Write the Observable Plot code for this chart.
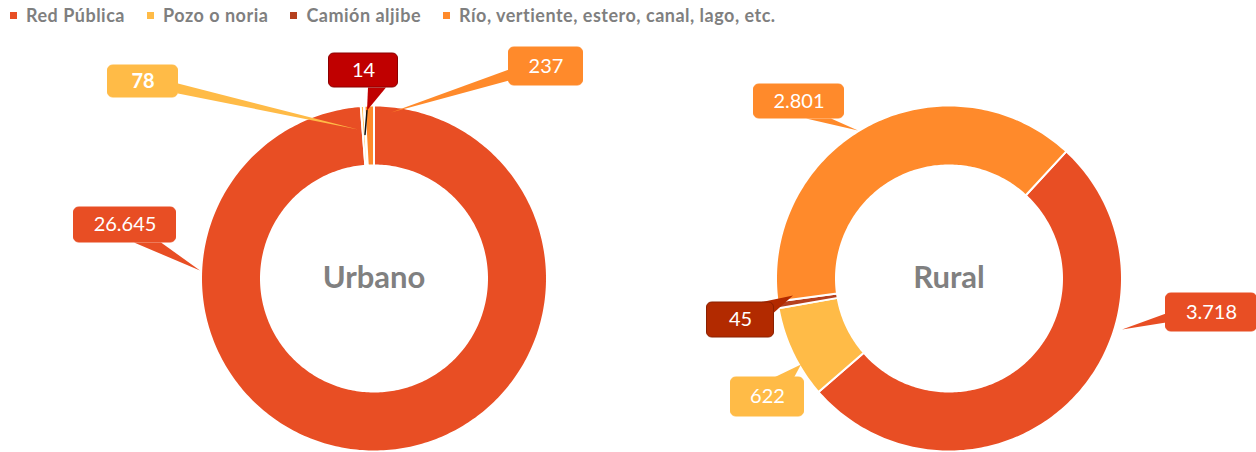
<!DOCTYPE html>
<html><head><meta charset="utf-8">
<script src="https://cdn.jsdelivr.net/npm/d3@7"></script>
<script src="https://cdn.jsdelivr.net/npm/@observablehq/plot@0.6"></script>
<style>
body{margin:0;background:#fff;font-family:Lato,"Open Sans",sans-serif;}
#legend{display:flex;height:30px;align-items:center;padding-left:10px;font-weight:bold;font-size:18px;letter-spacing:0.5px;color:#7f7f7f;white-space:nowrap;}
.item{display:flex;align-items:center;margin-right:22px;}
.sw{width:7px;height:7px;margin-right:9px;}
</style></head><body>
<div id="legend"></div><div id="chart"></div>
<script>
// ---- data ----
const charts = ["Urbano", "Rural"];
const categories = ["Red Pública", "Pozo o noria", "Camión aljibe", "Río, vertiente, estero, canal, lago, etc."];
const urbanoValues = [26645, 78, 14, 237];
const ruralValues = [3718, 622, 45, 2801];
const colors = ["#E84E24", "#FFBB47", "#B5401E", "#FF8A2B"];

// ---- layout (px relative to donut centre) ----
const startDeg = {Urbano: 0, Rural: 42.7};
const rOuter = 173, rInner = 113;
const callouts = [
  {chart: "Urbano", cat: 0, box: [-300, -71, -198, -36], base: [[-240, -36], [-213, -36]], tip: [-174, -8]},
  {chart: "Urbano", cat: 1, box: [-266, -213, -196, -181], base: [[-196, -195], [-196, -185]], tip: [-16, -149], bold: true},
  {chart: "Urbano", cat: 2, box: [-45, -225, 24, -191], base: [[-6, -191], [12, -191]], tip: [-7, -168], lead: [-9, -144], fill: "#C00000", stroke: "#8a0000"},
  {chart: "Urbano", cat: 3, box: [135, -231, 209, -193], base: [[135, -209], [135, -198]], tip: [17, -166]},
  {chart: "Rural", cat: 3, box: [-195, -194, -105, -160], base: [[-143, -160], [-118, -160]], tip: [-91, -148]},
  {chart: "Rural", cat: 0, box: [217, 15, 308, 53], base: [[217, 35], [217, 44]], tip: [173, 51]},
  {chart: "Rural", cat: 2, box: [-242, 24, -175, 59], base: [[-190, 24], [-175, 34]], tip: [-156, 17], fill: "#B22A00", stroke: "#8a2000"},
  {chart: "Rural", cat: 1, box: [-218, 99, -145, 138], base: [[-175, 99], [-155, 99]], tip: [-148, 86]}
];

const valuesOf = {Urbano: urbanoValues, Rural: ruralValues};
const fmt = d3.formatLocale({decimal: ",", thousands: ".", grouping: [3], currency: ["", ""]}).format(",d");

// legend
const leg = d3.select("#legend");
categories.forEach((c, i) => {
  const it = leg.append("div").attr("class", "item");
  it.append("div").attr("class", "sw").style("background", colors[i]);
  it.append("span").text(c);
});

// slice polygons from d3.pie
const slicePts = [];
for (const ch of charts) {
  const s = startDeg[ch] * Math.PI / 180;
  const arcs = d3.pie().sort(null).startAngle(s).endAngle(s + 2 * Math.PI)(valuesOf[ch]);
  arcs.forEach((a, i) => {
    const n = Math.max(2, Math.ceil((a.endAngle - a.startAngle) * 180 / Math.PI) + 1);
    const key = ch + i;
    const pts = [];
    for (let k = 0; k < n; k++) { const t = a.startAngle + (a.endAngle - a.startAngle) * k / (n - 1); pts.push([rOuter, t]); }
    for (let k = n - 1; k >= 0; k--) { const t = a.startAngle + (a.endAngle - a.startAngle) * k / (n - 1); pts.push([rInner, t]); }
    pts.push(pts[0]);
    pts.forEach(([r, t]) => slicePts.push({chart: ch, key, color: colors[i], x: r * Math.sin(t), y: -r * Math.cos(t)}));
  });
}

// callout pointer polygons
const wedgePts = [];
callouts.forEach((c, j) => {
  const col = c.fill || colors[c.cat];
  [c.base[0], c.tip, c.base[1], c.base[0]].forEach(p => wedgePts.push({chart: c.chart, key: j, color: col, x: p[0], y: p[1]}));
});
const leadPts = [];
callouts.forEach((c, j) => { if (c.lead) { leadPts.push({chart: c.chart, key: j, x: c.tip[0], y: c.tip[1]}, {chart: c.chart, key: j, x: c.lead[0], y: c.lead[1]}); } });

const boxes = callouts.map(c => ({...c, color: c.fill || colors[c.cat], strokeColor: c.stroke || (c.fill || colors[c.cat]), label: fmt(valuesOf[c.chart][c.cat])}));

const plot = Plot.plot({
  width: 1256, height: 422,
  marginLeft: 85.5, marginRight: 20.5, marginTop: 0, marginBottom: 0,
  style: {fontFamily: "Lato, 'Open Sans', sans-serif", background: "white"},
  fx: {domain: charts, padding: 0, axis: null},
  x: {domain: [-287.5, 287.5], axis: null},
  y: {domain: [-248, 174], reverse: true, axis: null},
  color: {type: "identity"},
  marks: [
    Plot.line(slicePts, {fx: "chart", x: "x", y: "y", z: "key", fill: "color", stroke: "white", strokeWidth: 2, curve: "linear"}),
    Plot.line(leadPts, {fx: "chart", x: "x", y: "y", z: "key", stroke: "#111", strokeWidth: 1.5}),
    Plot.line(wedgePts, {fx: "chart", x: "x", y: "y", z: "key", fill: "color", stroke: "none", curve: "linear"}),
    Plot.rect(boxes, {fx: "chart", x1: d => d.box[0], x2: d => d.box[2], y1: d => d.box[1], y2: d => d.box[3], fill: "color", stroke: "strokeColor", strokeWidth: 1, rx: 5}),
    Plot.text(boxes.filter(d => !d.bold), {fx: "chart", x: d => (d.box[0] + d.box[2]) / 2, y: d => (d.box[1] + d.box[3]) / 2, text: "label", fill: "white", fontSize: 20}),
    Plot.text(boxes.filter(d => d.bold), {fx: "chart", x: d => (d.box[0] + d.box[2]) / 2, y: d => (d.box[1] + d.box[3]) / 2, text: "label", fill: "white", fontSize: 20, fontWeight: "bold"}),
    Plot.text(charts, {fx: d => d, x: () => 0, y: () => 0, text: d => d, fill: "#808080", fontSize: 31, fontWeight: "bold"})
  ]
});
document.getElementById("chart").appendChild(plot);
</script>
</body></html>
